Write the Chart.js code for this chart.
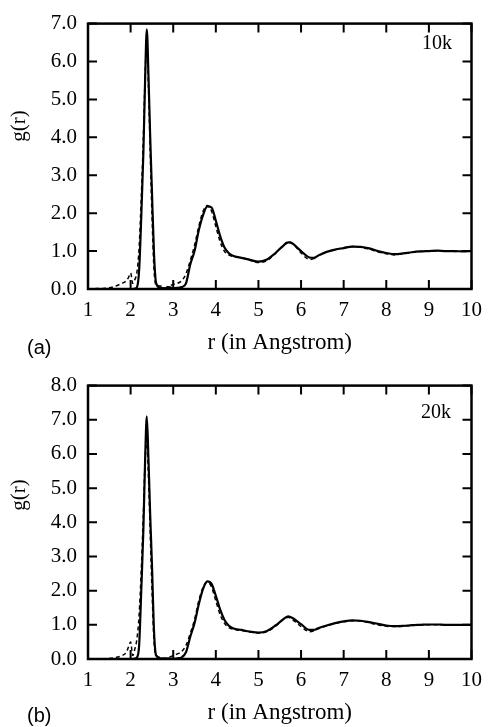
<!DOCTYPE html>
<html>
<head>
<meta charset="utf-8">
<script src="https://cdn.jsdelivr.net/npm/chart.js@4/dist/chart.umd.min.js"></script>
<style>
  body { margin: 0; background: #fff; }
  canvas { position: absolute; left: 0; }
  #chartA { top: 0; }
  #chartB { top: 362px; }
</style>
</head>
<body>
<canvas id="chartA" width="491" height="362"></canvas>
<canvas id="chartB" width="491" height="365"></canvas>
<script>
// r grid (Angstrom), shared by all four curves
const rGrid = [
  1.0, 1.2, 1.4, 1.6, 1.7, 1.8, 1.9, 1.95, 2.0, 2.05,
  2.1, 2.15, 2.2, 2.25, 2.3, 2.34, 2.38, 2.42, 2.46, 2.5,
  2.55, 2.6, 2.7, 2.8, 2.9, 3.0, 3.1, 3.2, 3.3, 3.4,
  3.5, 3.6, 3.7, 3.8, 3.9, 4.0, 4.1, 4.2, 4.3, 4.4,
  4.6, 4.8, 5.0, 5.2, 5.4, 5.6, 5.7, 5.8, 6.0, 6.2,
  6.3, 6.4, 6.6, 6.8, 7.0, 7.2, 7.4, 7.6, 7.8, 8.0,
  8.2, 8.4, 8.6, 8.8, 9.0, 9.2, 9.4, 9.6, 9.8, 10.0
];

// panel (a) 10k
const gSolid10k = [
  0, 0, 0, 0, 0, 0, 0, 0, 0, 0,
  0.01, 0.05, 0.5, 1.9, 3.6, 5.5, 6.85, 5.6, 4.0, 2.6,
  0.9, 0.15, 0.03, 0.02, 0.05, 0.02, 0.03, 0.05, 0.15, 0.65,
  1.0, 1.55, 1.95, 2.18, 2.15, 1.8, 1.4, 1.1, 0.95, 0.88,
  0.82, 0.77, 0.72, 0.78, 0.95, 1.16, 1.23, 1.2, 1.0, 0.83,
  0.82, 0.88, 0.98, 1.04, 1.08, 1.12, 1.11, 1.07, 1.0, 0.95,
  0.92, 0.94, 0.97, 0.99, 1.0, 1.01, 1.0, 1.0, 0.99, 1.0
];
const gDashed10k = [
  0, 0.01, 0.02, 0.06, 0.1, 0.15, 0.22, 0.3, 0.42, 0.15,
  0.25, 0.45, 1.1, 2.4, 4.0, 5.6, 6.5, 5.3, 3.6, 2.0,
  0.5, 0.1, 0.08, 0.03, 0.08, 0.12, 0.15, 0.22, 0.4, 0.75,
  1.15, 1.65, 2.05, 2.2, 2.05, 1.65, 1.25, 1.0, 0.9, 0.86,
  0.83, 0.76, 0.7, 0.75, 0.94, 1.17, 1.25, 1.2, 0.95, 0.78,
  0.8, 0.88, 0.98, 1.04, 1.08, 1.12, 1.1, 1.05, 0.98, 0.93,
  0.9, 0.93, 0.97, 0.99, 1.0, 1.0, 1.01, 0.99, 1.0, 1.0
];

// panel (b) 20k
const gSolid20k = [
  0, 0, 0, 0, 0, 0, 0, 0, 0, 0,
  0.01, 0.05, 0.4, 2.0, 3.8, 5.8, 7.1, 5.8, 4.2, 2.8,
  0.8, 0.1, 0.02, 0.01, 0.02, 0.0, 0.02, 0.05, 0.2, 0.65,
  1.05, 1.6, 2.05, 2.27, 2.2, 1.85, 1.45, 1.15, 0.98, 0.9,
  0.85, 0.8, 0.77, 0.82, 0.98, 1.18, 1.25, 1.2, 1.02, 0.85,
  0.85, 0.9, 0.98, 1.05, 1.1, 1.13, 1.12, 1.08, 1.03, 0.98,
  0.96, 0.97, 0.99, 1.0, 1.01, 1.01, 1.0, 1.0, 1.0, 1.0
];
const gDashed20k = [
  0, 0, 0.01, 0.03, 0.06, 0.1, 0.2, 0.35, 0.5, 0.1,
  0.3, 0.6, 1.3, 2.6, 4.3, 5.8, 6.4, 5.3, 3.7, 2.1,
  0.5, 0.1, 0.05, 0.02, 0.05, 0.1, 0.15, 0.22, 0.4, 0.75,
  1.15, 1.7, 2.1, 2.25, 2.1, 1.7, 1.3, 1.05, 0.92, 0.87,
  0.83, 0.79, 0.76, 0.8, 0.96, 1.17, 1.22, 1.15, 0.95, 0.8,
  0.82, 0.88, 0.97, 1.04, 1.09, 1.12, 1.11, 1.06, 1.0, 0.96,
  0.95, 0.96, 0.98, 1.0, 1.0, 1.0, 1.0, 1.0, 1.0, 0.99
];

const xTicks = [1, 2, 3, 4, 5, 6, 7, 8, 9, 10];
const SERIF = '"Liberation Serif", "Times New Roman", serif';
const SANS = '"Liberation Sans", Arial, sans-serif';

function toPoints(ys) {
  return rGrid.map((r, i) => ({ x: r, y: ys[i] }));
}

// box around the plot, inward ticks on all four sides, panel labels
const framePlugin = {
  id: 'frame',
  afterDatasetsDraw(chart, args, opts) {
    const { ctx, chartArea: a, scales: { x, y } } = chart;
    const len = 9;
    ctx.save();
    ctx.strokeStyle = '#000';
    ctx.lineWidth = 2;
    ctx.beginPath();
    x.ticks.forEach(t => {
      const px = x.getPixelForValue(t.value);
      ctx.moveTo(px, a.bottom); ctx.lineTo(px, a.bottom - len);
      ctx.moveTo(px, a.top); ctx.lineTo(px, a.top + len);
    });
    y.ticks.forEach(t => {
      const py = y.getPixelForValue(t.value);
      ctx.moveTo(a.left, py); ctx.lineTo(a.left + len, py);
      ctx.moveTo(a.right, py); ctx.lineTo(a.right - len, py);
    });
    ctx.stroke();
    ctx.lineWidth = 2.5;
    ctx.strokeRect(a.left, a.top, a.right - a.left, a.bottom - a.top);

    ctx.fillStyle = '#000';
    ctx.font = '20px ' + SERIF;
    ctx.textBaseline = 'alphabetic';
    ctx.fillText(opts.tag, opts.tagX, opts.tagY);

    ctx.font = '20px ' + SANS;
    ctx.textBaseline = 'middle';
    ctx.fillText(opts.panel, 27, opts.panelY);

    ctx.translate(19, opts.yTitleY);
    ctx.rotate(-Math.PI / 2);
    ctx.textAlign = 'center';
    ctx.font = '21px ' + SERIF;
    ctx.fillText('g(r)', 0, 0);
    ctx.restore();
  }
};

function makeChart(id, solid, dashed, yMax, cfg) {
  const ctx = document.getElementById(id);
  return new Chart(ctx, {
    type: 'line',
    data: {
      datasets: [
        {
          label: 'solid',
          data: toPoints(solid),
          borderColor: '#000',
          borderWidth: 2.2,
          pointRadius: 0,
          cubicInterpolationMode: 'monotone',
          fill: false
        },
        {
          label: 'dashed',
          data: toPoints(dashed),
          borderColor: '#000',
          borderWidth: 1.5,
          borderDash: [4, 3],
          pointRadius: 0,
          cubicInterpolationMode: 'monotone',
          fill: false
        }
      ]
    },
    options: {
      responsive: false,
      animation: false,
      layout: { padding: { left: 0, right: 12, top: cfg.top, bottom: 0 } },
      plugins: {
        legend: { display: false },
        tooltip: { enabled: false },
        frame: cfg.frame
      },
      scales: {
        x: {
          type: 'linear',
          min: 1,
          max: 10,
          afterBuildTicks: s => { s.ticks = xTicks.map(v => ({ value: v })); },
          afterFit: s => { s.height = cfg.bottomH; },
          grid: { display: false, drawTicks: false },
          border: { display: false },
          ticks: { color: '#000', padding: 9, font: { family: SERIF, size: 21 } },
          title: {
            display: true,
            text: 'r (in Angstrom)',
            color: '#000',
            font: { family: SERIF, size: 23 },
            padding: { top: 0, bottom: cfg.titlePad }
          }
        },
        y: {
          min: 0,
          max: yMax,
          afterFit: s => { s.width = 88; },
          grid: { display: false, drawTicks: false },
          border: { display: false },
          ticks: {
            stepSize: 1,
            color: '#000',
            padding: 11,
            font: { family: SERIF, size: 21 },
            callback: v => v.toFixed(1)
          }
        }
      }
    },
    plugins: [framePlugin]
  });
}

makeChart('chartA', gSolid10k, gDashed10k, 7, {
  top: 14, bottomH: 73, titlePad: 5,
  frame: { tag: '10k', tagX: 422, tagY: 49, panel: '(a)', panelY: 348, yTitleY: 126 }
});
makeChart('chartB', gSolid20k, gDashed20k, 8, {
  top: 22, bottomH: 68, titlePad: 0,
  frame: { tag: '20k', tagX: 421, tagY: 56, panel: '(b)', panelY: 354, yTitleY: 133 }
});
</script>
</body>
</html>
